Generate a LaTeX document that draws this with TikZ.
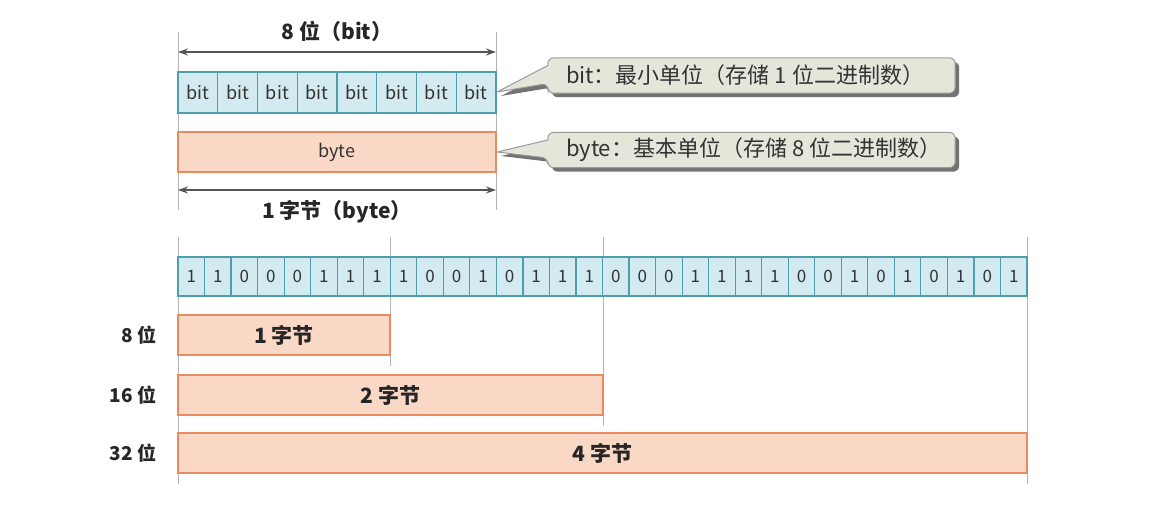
\documentclass[tikz,border=0pt]{standalone}
\usepackage{fontspec}
\setmainfont{Noto Sans CJK SC}
\usetikzlibrary{arrows.meta}
\definecolor{cellfill}{HTML}{D2EAF0}
\definecolor{celldraw}{HTML}{4E9FAE}
\definecolor{bytefill}{HTML}{FAD8C6}
\definecolor{bytedraw}{HTML}{EA8A60}
\definecolor{callfill}{HTML}{E4E6DA}
\definecolor{calldraw}{HTML}{9A9A9A}
\definecolor{guide}{HTML}{B4B4B4}
\definecolor{arrowc}{HTML}{555555}
\newcommand\calloutshape[2]{%
  \path[fill=black!55, rounded corners=6pt, transform canvas={xshift=4pt,yshift=-4pt}]
    ([yshift=10pt]#1.west) -- (#1.north west) -- (#1.north east) -- (#1.south east)
    -- (#1.south west) -- ([yshift=-8pt]#1.west) [sharp corners] -- (#2) -- cycle;
  \path[draw=calldraw, fill=callfill, line width=1pt, rounded corners=6pt]
    ([yshift=10pt]#1.west) -- (#1.north west) -- (#1.north east) -- (#1.south east)
    -- (#1.south west) -- ([yshift=-8pt]#1.west) [sharp corners] -- (#2) -- cycle;
}
\begin{document}
\begin{tikzpicture}[x=1pt,y=-1pt,
  cell/.style={draw=celldraw, fill=cellfill, line width=1.2pt, inner sep=0pt,
    minimum height=41pt, minimum width=39.75pt, font=\fontsize{18}{18}\selectfont, text=black!80},
  dcell/.style={draw=celldraw, fill=cellfill, line width=1.2pt, inner sep=0pt,
    minimum height=39pt, minimum width=26.53pt, font=\fontsize{17}{17}\selectfont, text=black!80},
  bytebox/.style={draw=bytedraw, fill=bytefill, line width=1.2pt, inner sep=0pt,
    font=\fontsize{18}{18}\selectfont, text=black!80},
  barlbl/.style={font=\fontsize{21}{21}\selectfont\bfseries, text=black!85},
  lbl/.style={font=\fontsize{21}{21}\selectfont\bfseries, text=black!85},
  sidelbl/.style={font=\fontsize{19}{19}\selectfont\bfseries, text=black!85, anchor=east},
  guideline/.style={draw=guide, line width=0.8pt},
  dim/.style={draw=arrowc, line width=1.6pt, {Stealth[length=10pt,width=7pt]}-{Stealth[length=10pt,width=7pt]}},
  callbox/.style={minimum width=407pt, minimum height=35pt, inner sep=0pt},
  calltext/.style={anchor=west, inner sep=0pt, font=\fontsize{22}{22}\selectfont, text=black!80}
]
\useasboundingbox (0,0) rectangle (1166,514);

% guide lines (top)
\coordinate (gt1) at (178,32);
\coordinate (gb1) at (178,210);
\coordinate (gt2) at (496,32);
\coordinate (gb2) at (496,210);
\draw[guideline] (gt1) -- (gb1);
\draw[guideline] (gt2) -- (gb2);

% guide lines (bottom)
\coordinate (h1t) at (178,237); \coordinate (h1b) at (178,484);
\coordinate (h2t) at (390,237); \coordinate (h2b) at (390,366);
\coordinate (h3t) at (603,237); \coordinate (h3b) at (603,426);
\coordinate (h4t) at (1027,237); \coordinate (h4b) at (1027,484);
\draw[guideline] (h1t) -- (h1b);
\draw[guideline] (h2t) -- (h2b);
\draw[guideline] (h3t) -- (h3b);
\draw[guideline] (h4t) -- (h4b);

% top 8 bits
\foreach \i in {1,...,8} {
  \node[cell] (b\i) at ({178+39.75*(\i-0.5)},92.5) {bit};
}
% dimension arrow 8 bit
\coordinate (a1l) at (178,52);
\coordinate (a1r) at (496,52);
\draw[dim] (a1l) -- (a1r);
\node[lbl] (t1) at (337,31) {8 位（bit）};

% byte box
\node[bytebox, minimum width=318pt, minimum height=40pt] (byte) at (337,152) {byte};
\coordinate (a2l) at (178,190);
\coordinate (a2r) at (496,190);
\draw[dim] (a2l) -- (a2r);
\node[lbl] (t2) at (337,212) {1 字节（byte）};

% callouts
\coordinate (p1) at (497,92);
\coordinate (p2) at (497,152);
\node[callbox] (c1) at (751.5,75.5) {};
\node[callbox] (c2) at (751.5,150) {};
\calloutshape{c1}{p1}
\calloutshape{c2}{p2}
\node[calltext] (c1t) at ([xshift=18pt]c1.west) {bit：最小单位（存储 1 位二进制数）};
\node[calltext] (c2t) at ([xshift=18pt]c2.west) {byte：基本单位（存储 8 位二进制数）};

% 32 bit row
\foreach \b [count=\i] in {1,1,0,0,0,1,1,1,1,0,0,1,0,1,1,1,0,0,0,1,1,1,1,0,0,1,0,1,0,1,0,1} {
  \node[dcell] (d\i) at ({178+26.53125*(\i-0.5)},276.5) {\b};
}

% bars
\node[bytebox, minimum width=212pt, minimum height=40pt] (bar1) at (284,335) {};
\node[bytebox, minimum width=425pt, minimum height=40pt] (bar2) at (390.5,395) {};
\node[bytebox, minimum width=849pt, minimum height=40pt] (bar3) at (602.5,453) {};
\node[barlbl] (bl1) at (bar1) {1 字节};
\node[barlbl] (bl2) at (bar2) {2 字节};
\node[barlbl] (bl3) at (bar3) {4 字节};

\node[sidelbl] (l1) at (160,335) {8 位};
\node[sidelbl] (l2) at (160,395) {16 位};
\node[sidelbl] (l3) at (160,453) {32 位};
\end{tikzpicture}
\end{document}
